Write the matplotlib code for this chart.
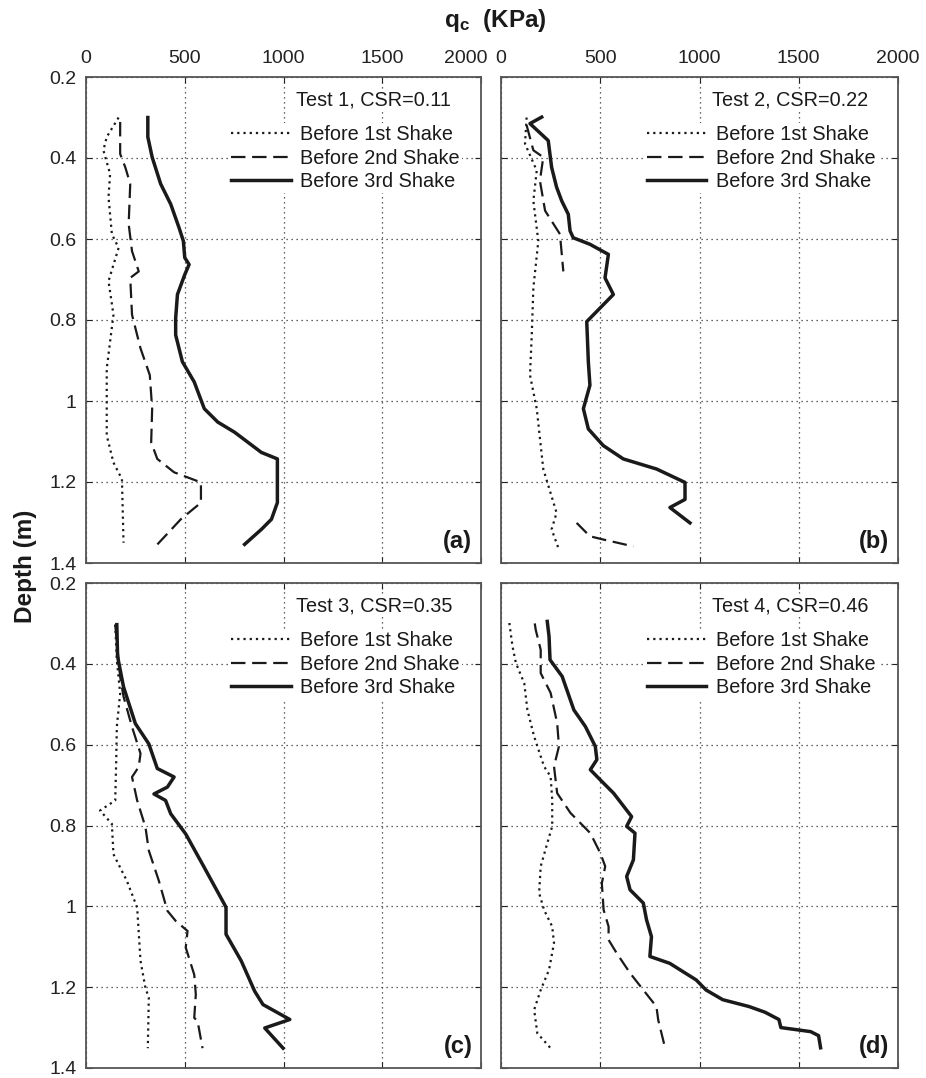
import numpy as np
import matplotlib
matplotlib.use("Agg")
import matplotlib.pyplot as plt

plt.rcParams['font.family'] = ['Liberation Sans', 'DejaVu Sans']
plt.rcParams['mathtext.fontset'] = 'custom'
plt.rcParams['mathtext.rm'] = 'Liberation Sans'
plt.rcParams['mathtext.bf'] = 'Liberation Sans:bold'

nan = float('nan')

# ---- Test 1 (a) ----
a_d1 = [0.30, 0.348, 0.381, 0.439, 0.497, 0.588, 0.622, 0.704, 0.787, 0.92, 1.085, 1.152, 1.193, 1.35]
a_q1 = [165, 105, 88, 122, 114, 131, 165, 114, 139, 105, 105, 139, 182, 190]
a_d2 = [0.311, 0.39, 0.423, 0.464, 0.563, 0.63, 0.68, 0.696, 0.787, 0.87, 0.936, 1.019, 1.102,
        1.143, 1.176, 1.201, 1.251, 1.292, 1.359]
a_q2 = [173, 173, 199, 224, 216, 233, 267, 224, 233, 276, 323, 335, 330, 361, 446, 582, 582, 480, 352]
a_d3 = [0.30, 0.348, 0.398, 0.464, 0.514, 0.572, 0.605, 0.646, 0.663, 0.688, 0.737, 0.795, 0.837,
        0.903, 0.953, 1.019, 1.052, 1.077, 1.127, 1.143, 1.251, 1.292, 1.317, 1.354]
a_q3 = [313, 313, 335, 378, 429, 471, 493, 500, 522, 500, 463, 454, 454, 488, 548, 599, 667, 752,
        888, 969, 969, 939, 888, 803]

# ---- Test 2 (b) ----
b_d1 = [0.30, 0.365, 0.431, 0.506, 0.605, 0.721, 0.837, 0.936, 1.019, 1.168, 1.276, 1.317, 1.363]
b_q1 = [129, 121, 180, 163, 188, 163, 155, 146, 180, 213, 280, 255, 289]
b_d2 = [0.319, 0.381, 0.398, 0.456, 0.53, 0.588, 0.68, nan, 1.301, 1.334, 1.342, 1.359]
b_q2 = [129, 163, 213, 196, 222, 297, 314, nan, 381, 448, 515, 667]
b_d3 = [0.299, 0.315, 0.357, 0.423, 0.472, 0.506, 0.539, 0.58, 0.597, 0.613, 0.638, 0.696, 0.737,
        0.779, 0.804, 0.903, 0.961, 1.019, 1.069, 1.11, 1.143, 1.168, 1.201, 1.243, 1.263, 1.301]
b_q3 = [205, 146, 238, 255, 280, 306, 339, 348, 364, 448, 541, 524, 566, 482, 432, 440, 448, 415,
        440, 515, 616, 784, 927, 927, 851, 952]

# ---- Test 3 (c) ----
c_d1 = [0.303, 0.39, 0.473, 0.556, 0.639, 0.738, 0.763, 0.796, 0.871, 0.937, 1.003, 1.135, 1.202,
        1.226, 1.351]
c_q1 = [148, 156, 173, 156, 153, 148, 71, 131, 139, 207, 259, 276, 301, 318, 313]
c_d2 = [0.303, 0.39, 0.432, 0.481, 0.556, 0.622, 0.655, 0.68, 0.738, 0.804, 0.862, 0.937, 1.011,
        1.036, 1.061, 1.102, 1.169, 1.218, 1.276, 1.284, 1.351]
c_q2 = [148, 165, 173, 190, 233, 276, 267, 233, 259, 301, 318, 369, 412, 454, 514, 505, 548, 556,
        548, 565, 590]
c_d3 = [0.303, 0.382, 0.457, 0.548, 0.598, 0.659, 0.68, 0.705, 0.722, 0.738, 0.771, 0.821, 0.904,
        0.995, 1.003, 1.069, 1.135, 1.21, 1.243, 1.28, 1.301, 1.351]
c_q3 = [156, 160, 190, 250, 318, 361, 446, 412, 344, 403, 429, 505, 599, 701, 709, 709, 786, 854,
        896, 1032, 905, 998]

# ---- Test 4 (d) ----
d_d1 = [0.299, 0.357, 0.398, 0.448, 0.514, 0.58, 0.654, 0.679, 0.736, 0.802, 0.844, 0.901, 0.967,
        1.009, 1.05, 1.091, 1.157, 1.207, 1.256, 1.314, 1.351]
d_q1 = [42, 58, 75, 117, 133, 167, 217, 250, 258, 258, 233, 200, 192, 217, 258, 267, 242, 200, 167,
        183, 250]
d_d2 = [0.30, 0.316, 0.365, 0.423, 0.472, 0.547, 0.604, 0.654, 0.72, 0.769, 0.819, 0.868, 0.901,
        0.943, 1.009, 1.05, 1.083, 1.116, 1.165, 1.207, 1.248, 1.281, 1.347]
d_q2 = [170, 175, 200, 200, 250, 283, 292, 267, 283, 350, 450, 500, 525, 508, 517, 542, 542, 583,
        650, 717, 783, 792, 825]
d_d3 = [0.295, 0.332, 0.39, 0.431, 0.514, 0.555, 0.604, 0.637, 0.662, 0.687, 0.72, 0.778, 0.802,
        0.819, 0.885, 0.926, 0.959, 0.992, 1.033, 1.075, 1.124, 1.141, 1.182, 1.207, 1.231, 1.248,
        1.262, 1.28, 1.30, 1.31, 1.32, 1.35]
d_q3 = [233, 242, 247, 308, 367, 425, 475, 483, 450, 500, 567, 658, 633, 675, 667, 633, 650, 717,
        733, 758, 750, 850, 983, 1033, 1117, 1250, 1330, 1400, 1410, 1560, 1600, 1610]

panels = [
    ("Test 1, CSR=0.11", "(a)", [(a_q1, a_d1), (a_q2, a_d2), (a_q3, a_d3)]),
    ("Test 2, CSR=0.22", "(b)", [(b_q1, b_d1), (b_q2, b_d2), (b_q3, b_d3)]),
    ("Test 3, CSR=0.35", "(c)", [(c_q1, c_d1), (c_q2, c_d2), (c_q3, c_d3)]),
    ("Test 4, CSR=0.46", "(d)", [(d_q1, d_d1), (d_q2, d_d2), (d_q3, d_d3)]),
]
labels = ["Before 1st Shake", "Before 2nd Shake", "Before 3rd Shake"]
xticks = [0, 500, 1000, 1500, 2000]
yticks = [0.2, 0.4, 0.6, 0.8, 1.0, 1.2, 1.4]
ytick_labels = ["0.2", "0.4", "0.6", "0.8", "1", "1.2", "1.4"]

fig = plt.figure(figsize=(9.26, 10.78), dpi=100)

W, H = 926.0, 1078.0
boxes = [(86, 77, 481, 563), (501, 77, 898, 563), (86, 583, 481, 1068), (501, 583, 898, 1068)]

ink = '#1a1a1a'
styles = [dict(linestyle=(0, (1, 1.8)), lw=1.6),
          dict(linestyle=(0, (6.5, 3)), lw=1.6),
          dict(linestyle='-', lw=2.5)]

for i, (title, tag, series) in enumerate(panels):
    x0, y0, x1, y1 = boxes[i]
    ax = fig.add_axes([x0 / W, 1 - y1 / H, (x1 - x0) / W, (y1 - y0) / H])
    for (q, d), st, lab in zip(series, styles, labels):
        ax.plot(q, d, color=ink, label=lab, **st)

    ax.set_xlim(0, 2000)
    ax.set_ylim(1.4, 0.2)
    ax.set_xticks(xticks)
    ax.set_yticks(yticks)
    ax.grid(True, color='#333333', linestyle=(0, (1, 3)), lw=0.9)
    ax.tick_params(direction='in', top=True, right=True, length=4, width=0.8,
                   labelsize=14, pad=7, colors='#222222')
    if i < 2:
        ax.xaxis.tick_top()
        ax.tick_params(axis='x', bottom=True, labelbottom=False, labeltop=True)
        if i == 0:
            # last label nudged left so it does not run into the next panel's "0"
            ax.set_xticklabels([str(t) for t in xticks[:-1]] + [""])
            ax.annotate("2000", xy=(0.962, 1.0), xycoords='axes fraction',
                        xytext=(0, 7), textcoords='offset points', ha='center',
                        va='bottom', fontsize=14, color='#222222')
        else:
            ax.set_xticklabels([str(t) for t in xticks])
    else:
        ax.tick_params(axis='x', labelbottom=False, labeltop=False)
    if i % 2 == 0:
        ax.set_yticklabels(ytick_labels)
    else:
        ax.tick_params(axis='y', labelleft=False)
    for sp in ax.spines.values():
        sp.set_color('#555555')
        sp.set_linewidth(1.3)

    leg = ax.legend(loc='upper left', bbox_to_anchor=(0.362, 0.905), fontsize=14.3,
                    frameon=True, framealpha=1, edgecolor='none', facecolor='white',
                    borderpad=0.1, borderaxespad=0, handlelength=3.0, handletextpad=0.5,
                    labelspacing=0.23)
    for t in leg.get_texts():
        t.set_color(ink)
    ax.text(0.532, 0.953, title, transform=ax.transAxes, ha='left', va='center',
            fontsize=14.3, color=ink,
            bbox=dict(facecolor='white', edgecolor='none', pad=1))
    ax.text(0.978, 0.02, tag, transform=ax.transAxes, ha='right', va='bottom',
            fontsize=17, fontweight='bold', color=ink)

fig.text(0.535, 1 - 20 / H, r'$\mathbf{q_c}$  (KPa)', ha='center', va='center',
         fontsize=17.5, fontweight='bold', color=ink)
fig.text(0.027, 1 - 566 / H, 'Depth (m)', rotation=90, ha='center', va='center',
         fontsize=17.5, fontweight='bold', color=ink)

fig.savefig('out.png', dpi=100)
